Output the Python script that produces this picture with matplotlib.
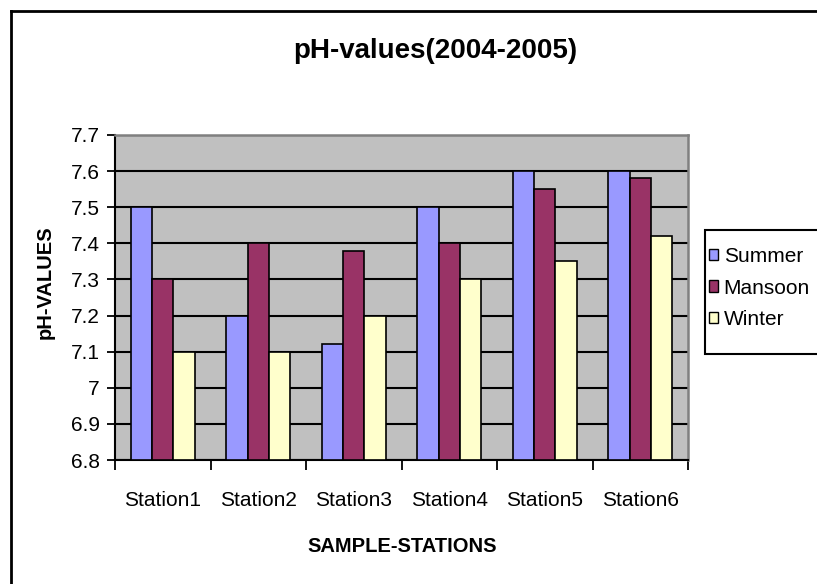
import numpy as np
import matplotlib
matplotlib.use("Agg")
import matplotlib.pyplot as plt
from matplotlib.patches import Patch, Rectangle
from matplotlib.lines import Line2D

stations = ["Station1", "Station2", "Station3", "Station4", "Station5", "Station6"]
summer = [7.5, 7.2, 7.12, 7.5, 7.6, 7.6]
mansoon = [7.3, 7.4, 7.38, 7.4, 7.55, 7.58]
winter = [7.1, 7.1, 7.2, 7.3, 7.35, 7.42]
seasons = ["Summer", "Mansoon", "Winter"]
colors = ["#9999FF", "#993366", "#FFFFCC"]
yticks = [6.8, 6.9, 7.0, 7.1, 7.2, 7.3, 7.4, 7.5, 7.6, 7.7]
ytick_labels = ["6.8", "6.9", "7", "7.1", "7.2", "7.3", "7.4", "7.5", "7.6", "7.7"]

plt.rcParams['font.family'] = ['Liberation Sans', 'DejaVu Sans']

W, H = 817, 584
fig = plt.figure(figsize=(W / 100, H / 100), dpi=100)
ax = fig.add_axes([115 / W, 1 - 460 / H, 573 / W, 325 / H])
ax.set_facecolor("#C0C0C0")

x = np.arange(len(stations))
bw = 1 / 4.5
base = 6.8
for k, vals in enumerate([summer, mansoon, winter]):
    v = np.array(vals)
    ax.bar(x + (k - 1) * bw, v - base, bw, bottom=base, color=colors[k],
           edgecolor="black", linewidth=1.2, zorder=3)

ax.set_xlim(-0.5, 5.5)
ax.set_ylim(6.8, 7.7)
ax.set_yticks(yticks)
ax.set_yticklabels(ytick_labels)
ax.yaxis.grid(True, color="black", linewidth=1.5, zorder=1)
ax.set_axisbelow(True)

ax.set_xticks(np.arange(-0.5, 6, 1))
ax.set_xticklabels([])
ax.set_xticks(x, minor=True)
ax.set_xticklabels(stations, minor=True)
ax.tick_params(axis="x", which="major", direction="out", length=7, width=1.3)
ax.tick_params(axis="x", which="minor", length=0, pad=22, labelsize=15)
ax.tick_params(axis="y", direction="out", length=6, width=1.3, pad=5, labelsize=15)

for s in ["left", "bottom"]:
    ax.spines[s].set_color("black")
    ax.spines[s].set_linewidth(1.5)
for s in ["top", "right"]:
    ax.spines[s].set_color("#808080")
    ax.spines[s].set_linewidth(1.8)

fig.text(435 / W, 1 - 51 / H, "pH-values(2004-2005)", ha="center", va="center",
         fontsize=20, fontweight="bold")
fig.text(402 / W, 1 - 546 / H, "SAMPLE-STATIONS", ha="center", va="center",
         fontsize=14.5, fontweight="bold")
fig.text(45 / W, 1 - 282 / H, "pH-VALUES", ha="center", va="center",
         rotation=90, fontsize=14.5, fontweight="bold")

# legend box (Excel style, drawn separately)
fig.add_artist(Rectangle((705 / W, 1 - 354 / H), 130 / W, 124 / H,
                         facecolor="white", edgecolor="black", linewidth=1.5,
                         transform=fig.transFigure, zorder=4))
handles = [Patch(facecolor=c, edgecolor="black", linewidth=1.0) for c in colors]
leg = fig.legend(handles, seasons, loc="upper left",
                 bbox_to_anchor=(709 / W, 1 - 247 / H), fontsize=15,
                 frameon=False, handlelength=0.45, handleheight=0.45,
                 handletextpad=0.25, labelspacing=0.6, borderpad=0,
                 borderaxespad=0)
leg.set_zorder(5)

# outer chart border (left and top only visible)
fig.add_artist(Line2D([10.5 / W, 10.5 / W], [0, 1 - 10.5 / H], color="black",
                      linewidth=2, transform=fig.transFigure))
fig.add_artist(Line2D([10.5 / W, 1], [1 - 10.5 / H, 1 - 10.5 / H], color="black",
                      linewidth=2, transform=fig.transFigure))

fig.savefig("out.png", dpi=100)
